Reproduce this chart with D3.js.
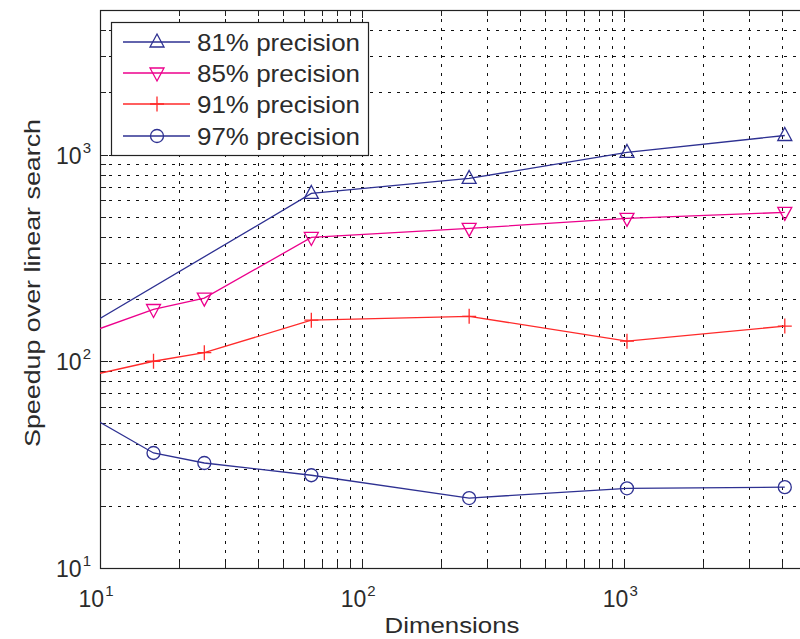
<!DOCTYPE html>
<html><head><meta charset="utf-8">
<script src="https://cdn.jsdelivr.net/npm/d3@7"></script>
<style>body{margin:0;background:#fff;}svg{display:block;font-family:"Liberation Sans",Arial,sans-serif;}</style>
</head><body><svg id="c" width="800" height="639"></svg>
<script>
const dims = [10, 16, 25, 64, 256, 1024, 4096];
const seriesNames = ["81% precision", "85% precision", "91% precision", "97% precision"];
const p81 = [161, null, null, 648, 766, 1023, 1236];
const p85 = [144, 178, 202, 397, 439, 491, 525];
const p91 = [87.5, 100, 110, 158, 165, 125, 148];
const p97 = [50.7, 36, 32.2, 28.1, 21.8, 24.3, 24.6];
const xTickExps = [1, 2, 3];
const yTickExps = [1, 2, 3];
const xDomain = [10, 5000];
const yDomain = [10, 5000];

const colors = ["#2e3192", "#ec008c", "#ff2a2a", "#2e3192"];
const markers = ["tri-up", "tri-down", "plus", "circle"];
const allSeries = [p81, p85, p91, p97];

const svg = d3.select("#c");
const L = 100, R = 807.5, T = 10, B = 568;
const x = d3.scaleLog().domain(xDomain).range([L, R]);
const y = d3.scaleLog().domain(yDomain).range([B, T]);

function minors(dom) {
  const out = [];
  for (let e = Math.floor(Math.log10(dom[0])); e <= Math.ceil(Math.log10(dom[1])); e++) {
    for (let k = 1; k <= 9; k++) {
      const v = k * Math.pow(10, e);
      if (v >= dom[0] && v <= dom[1]) out.push(v);
    }
  }
  return out;
}
const xm = minors(xDomain), ym = minors(yDomain);

svg.append("clipPath").attr("id", "pc").append("rect")
  .attr("x", L).attr("y", T).attr("width", R - L).attr("height", B - T);

// grid
const grid = svg.append("g").attr("stroke", "#111").attr("stroke-width", 1)
  .attr("stroke-dasharray", "3,6").attr("shape-rendering", "crispEdges");
grid.selectAll("line.gx").data(xm.filter(v => v > xDomain[0] && v < xDomain[1])).join("line")
  .attr("class", "gx")
  .attr("x1", d => Math.round(x(d)) + 0.5).attr("x2", d => Math.round(x(d)) + 0.5)
  .attr("y1", T).attr("y2", B);
grid.selectAll("line.gy").data(ym.filter(v => v > yDomain[0] && v < yDomain[1])).join("line")
  .attr("class", "gy")
  .attr("y1", d => Math.round(y(d)) + 0.5).attr("y2", d => Math.round(y(d)) + 0.5)
  .attr("x1", L).attr("x2", R);

// box
svg.append("rect").attr("x", L + 0.5).attr("y", T + 0.5).attr("width", R - L).attr("height", B - T)
  .attr("fill", "none").attr("stroke", "#222").attr("stroke-width", 1.2);

// ticks (inward)
const tk = svg.append("g").attr("stroke", "#222").attr("stroke-width", 1.2).attr("shape-rendering", "crispEdges");
const isMajor = v => Math.abs(Math.log10(v) - Math.round(Math.log10(v))) < 1e-9;
xm.forEach(v => {
  const len = isMajor(v) ? 8 : 6, xx = Math.round(x(v)) + 0.5;
  tk.append("line").attr("x1", xx).attr("x2", xx).attr("y1", B).attr("y2", B - len);
  tk.append("line").attr("x1", xx).attr("x2", xx).attr("y1", T).attr("y2", T + len);
});
ym.forEach(v => {
  const len = isMajor(v) ? 8 : 6, yy = Math.round(y(v)) + 0.5;
  tk.append("line").attr("y1", yy).attr("y2", yy).attr("x1", L).attr("x2", L + len);
  tk.append("line").attr("y1", yy).attr("y2", yy).attr("x1", R).attr("x2", R - len);
});

// tick labels
const txtCol = "#2b2b2b";
xTickExps.forEach(e => {
  const t = svg.append("text").attr("x", x(Math.pow(10, e)) - 4).attr("y", 607)
    .attr("text-anchor", "middle").attr("fill", txtCol).attr("font-size", 23);
  t.append("tspan").text("10");
  t.append("tspan").attr("font-size", 15).attr("dy", -11).attr("dx", 1).text(String(e));
});
yTickExps.forEach(e => {
  const t = svg.append("text").attr("x", 91).attr("y", y(Math.pow(10, e)) + 9)
    .attr("text-anchor", "end").attr("fill", txtCol).attr("font-size", 23);
  t.append("tspan").text("10");
  t.append("tspan").attr("font-size", 15).attr("dy", -11).attr("dx", 1).text(String(e));
});

// axis titles
svg.append("text").attr("x", 452).attr("y", 633).attr("text-anchor", "middle")
  .attr("fill", txtCol).attr("font-size", 22).attr("textLength", 135).attr("lengthAdjust", "spacingAndGlyphs")
  .text("Dimensions");
svg.append("text").attr("transform", "translate(40,283) rotate(-90)").attr("text-anchor", "middle")
  .attr("fill", txtCol).attr("font-size", 22).attr("textLength", 328).attr("lengthAdjust", "spacingAndGlyphs")
  .text("Speedup over linear search");

function drawMarker(g, type, cx, cy, col) {
  if (type === "tri-up") {
    g.append("path").attr("d", `M${cx},${cy - 8}L${cx + 7},${cy + 5}L${cx - 7},${cy + 5}Z`)
      .attr("fill", "none").attr("stroke", col).attr("stroke-width", 1.3);
  } else if (type === "tri-down") {
    g.append("path").attr("d", `M${cx},${cy + 8}L${cx + 7},${cy - 5}L${cx - 7},${cy - 5}Z`)
      .attr("fill", "none").attr("stroke", col).attr("stroke-width", 1.3);
  } else if (type === "plus") {
    g.append("path").attr("d", `M${cx - 7},${cy}H${cx + 7}M${cx},${cy - 7.5}V${cy + 7.5}`)
      .attr("fill", "none").attr("stroke", col).attr("stroke-width", 1.3);
  } else {
    g.append("circle").attr("cx", cx).attr("cy", cy).attr("r", 6.5)
      .attr("fill", "none").attr("stroke", col).attr("stroke-width", 1.3);
  }
}

const plot = svg.append("g").attr("clip-path", "url(#pc)");
allSeries.forEach((vals, i) => {
  const pts = dims.map((d, j) => ({ d, v: vals[j] })).filter(p => p.v != null);
  const line = d3.line().x(p => x(p.d)).y(p => y(p.v));
  plot.append("path").datum(pts).attr("d", line).attr("fill", "none")
    .attr("stroke", colors[i]).attr("stroke-width", 1.3);
  const mg = svg.append("g");
  pts.filter(p => p.d > xDomain[0]).forEach(p => drawMarker(mg, markers[i], x(p.d), y(p.v), colors[i]));
});

// legend
const lg = svg.append("g");
lg.append("rect").attr("x", 111.5).attr("y", 22.5).attr("width", 257).attr("height", 133)
  .attr("fill", "#fff").attr("stroke", "#222").attr("stroke-width", 1.2);
const rowY = [42, 73, 104, 136];
seriesNames.forEach((n, i) => {
  lg.append("line").attr("x1", 123).attr("x2", 190).attr("y1", rowY[i]).attr("y2", rowY[i])
    .attr("stroke", colors[i]).attr("stroke-width", 1.3);
  drawMarker(lg, markers[i], 157, rowY[i], colors[i]);
  lg.append("text").attr("x", 197).attr("y", rowY[i] + 8.5).attr("fill", txtCol)
    .attr("font-size", 24).attr("textLength", 163).attr("lengthAdjust", "spacingAndGlyphs").text(n);
});
</script></body></html>
